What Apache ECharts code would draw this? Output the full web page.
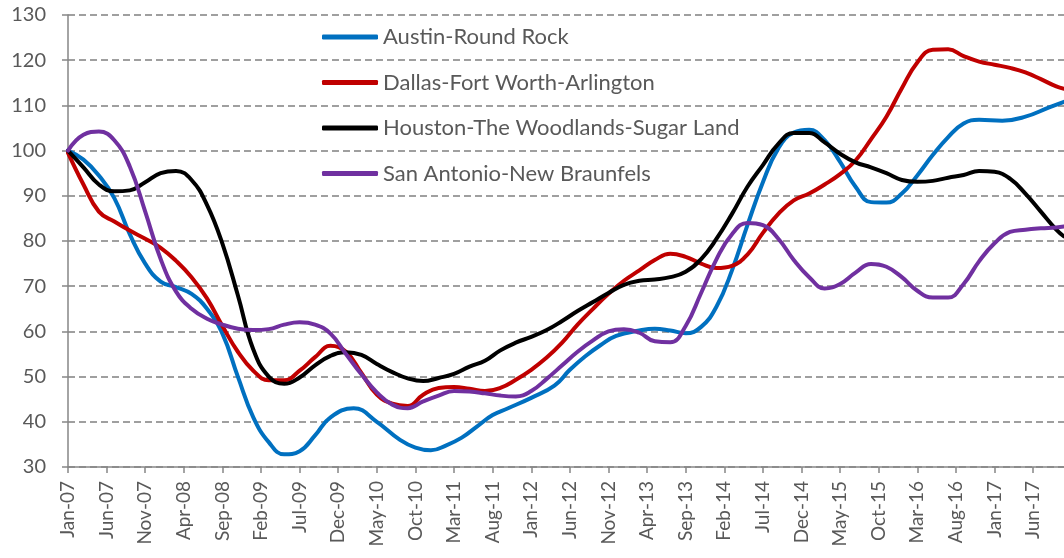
<!DOCTYPE html>
<html>
<head>
<meta charset="utf-8">
<script src="https://cdn.jsdelivr.net/npm/echarts@6/dist/echarts.min.js"></script>
<style>
html,body{margin:0;padding:0;background:#fff;}
#chart{width:1064px;height:558px;}
</style>
</head>
<body>
<div id="chart"></div>
<script>
// Category labels (monthly, Jan-07 .. Oct-17)
const monthNames = ['Jan','Feb','Mar','Apr','May','Jun','Jul','Aug','Sep','Oct','Nov','Dec'];
const startYear = 2007;
const monthCount = 130;
const categories = [];
for (let i = 0; i < monthCount; i++) {
  const y = startYear + Math.floor(i / 12);
  categories.push(monthNames[i % 12] + '-' + String(y % 100).padStart(2, '0'));
}

const seriesNames = ['Austin-Round Rock','Dallas-Fort Worth-Arlington','Houston-The Woodlands-Sugar Land','San Antonio-New Braunfels'];
const seriesColors = ['#0070C0','#C00000','#000000','#7030A0'];

// Values read at month indices (0 = Jan-07)
const austinMonths = [0,2,4,6,8,10,12,14,16,18,20,22,24,26,28,30,32,34,37,40,43,45,47,49,51,53,55,57,60,63,65,67,69,71,74,76,78,80,82,84,86,88,90,92,94,96,98,100,102,104,106,108,110,112,114,116,118,121,124,127,129];
const austinValues = [100,98,94.5,89.5,81.5,75,71,69.8,68.3,65,59.5,50,41,35.5,32.8,33.5,37,41,43,40,36,34.3,33.7,34.8,36.5,39,41.5,43,45.3,48,51.5,54.5,57,59,60.2,60.6,60.2,59.6,61,65.5,73.5,83.5,93,100.5,104,104.6,102.3,97.5,92,88.6,88.5,90.5,94.5,99,103,106,106.8,106.6,107.5,109.5,110.8];

const dallasMonths = [0,2,4,6,8,10,12,14,16,18,20,22,24,26,28,30,32,34,36,38,40,42,44,46,48,50,52,54,56,58,60,62,64,66,68,70,72,74,76,78,80,82,84,86,88,90,92,94,96,98,100,102,104,106,108,110,112,114,116,118,120,122,124,126,128,129];
const dallasValues = [99.5,92.5,86.5,84.3,82.3,80.5,78.5,75.6,72,67.3,61.2,55.5,51.3,49.2,49.2,51.3,54.3,56.8,55.5,50.8,46,44,43.5,46,47.5,47.7,47.3,46.8,47.5,49.3,51.5,54.2,57.5,61.5,65,68.3,71.2,73.5,75.8,77.2,76.5,75,74,74.5,77,81.8,86,89,90.5,92.5,94.8,97.8,102.5,107.5,113.8,119.5,122.3,122.4,120.9,119.7,119,118.3,117.3,115.8,114.2,113.7];

const houstonMonths = [0,2,4,6,8,10,12,14,16,18,20,22,24,26,28,30,32,34,36,38,40,42,44,46,48,50,52,54,56,58,60,62,64,66,68,70,72,74,76,78,80,82,84,86,88,90,92,94,96,98,100,102,104,106,108,110,112,114,116,118,120,122,124,126,128,129];
const houstonValues = [100,96.3,92.5,91,91.2,93,95,95.5,93.5,88,79.4,68,56,50,48.4,49.8,52.5,54.6,55.4,54.8,52.8,51,49.6,49,49.7,50.6,52.2,53.5,55.8,57.5,58.8,60.3,62.3,64.5,66.5,68.5,70.3,71.2,71.5,72,73.2,76,80.5,86,92,96.8,101.5,103.9,103.9,101.8,99.3,97.4,96.3,95,93.5,93.1,93.3,94,94.6,95.5,95.3,93.8,90.5,86.5,82.5,81];

const sanAntonioMonths = [0,2,4,6,8,10,12,14,16,18,20,22,24,26,28,30,32,34,36,38,40,42,44,46,48,50,52,54,56,58,60,62,64,66,68,70,72,74,76,78,80,82,84,86,88,90,92,94,96,98,100,102,104,106,108,110,112,114,116,118,120,122,124,126,128,129];
const sanAntonioValues = [100,103.5,104.2,102.3,96.5,86.5,76,68.8,65,62.8,61.5,60.6,60.3,60.5,61.5,62,61.5,59.5,55,50.5,46.5,43.8,43,44.5,45.8,46.8,46.7,46.3,45.8,45.6,46.8,49.5,52.5,55.5,58,60,60.5,59.7,57.8,57.6,61.2,68.5,76,81.5,84,83.5,80.5,75.8,72,69.5,70.5,73,74.9,74.3,72,69,67.5,67.5,70.5,75.5,79.5,82,82.5,82.8,83,83.2];

const yTicks = {min: 30, max: 130, interval: 10};

function pairs(ms, vs) { return ms.map((m, i) => [m, vs[i]]); }
const allData = [
  pairs(austinMonths, austinValues),
  pairs(dallasMonths, dallasValues),
  pairs(houstonMonths, houstonValues),
  pairs(sanAntonioMonths, sanAntonioValues)
];

const FONT = 'Lato';
const chart = echarts.init(document.getElementById('chart'), null, {renderer: 'canvas'});
chart.setOption({
  animation: false,
  backgroundColor: '#ffffff',
  textStyle: {fontFamily: FONT},
  grid: {left: 68, top: 15, right: 0, bottom: 91, containLabel: false},
  legend: {
    orient: 'vertical',
    left: 322,
    top: 24,
    padding: 0,
    icon: 'roundRect',
    itemWidth: 56,
    itemHeight: 5,
    itemGap: 19.5,
    textStyle: {fontFamily: FONT, fontSize: 22, color: '#595959', lineHeight: 26},
    data: seriesNames
  },
  xAxis: {
    type: 'category',
    data: categories,
    boundaryGap: false,
    axisLine: {lineStyle: {color: '#868686', width: 1.5}},
    axisTick: {show: true, interval: 4, length: 6, lineStyle: {color: '#868686', width: 1.5}},
    axisLabel: {interval: 4, rotate: 90, margin: 14, fontFamily: FONT, fontSize: 19, color: '#595959'},
    splitLine: {show: false}
  },
  yAxis: {
    type: 'value',
    min: yTicks.min,
    max: yTicks.max,
    interval: yTicks.interval,
    axisLine: {show: true, lineStyle: {color: '#868686', width: 1.5}},
    axisTick: {show: true, length: 6, lineStyle: {color: '#868686', width: 1.5}},
    axisLabel: {margin: 22, fontFamily: FONT, fontSize: 20, color: '#595959'},
    splitLine: {show: true, lineStyle: {color: '#808080', width: 1.6, type: [7, 4]}}
  },
  series: seriesNames.map((name, i) => ({
    name: name,
    type: 'line',
    data: allData[i],
    smooth: 0.45,
    symbol: 'none',
    color: seriesColors[i],
    lineStyle: {width: 4, color: seriesColors[i], cap: 'round', join: 'round'},
    itemStyle: {color: seriesColors[i]},
    z: 2 + i
  }))
});
</script>
</body>
</html>
